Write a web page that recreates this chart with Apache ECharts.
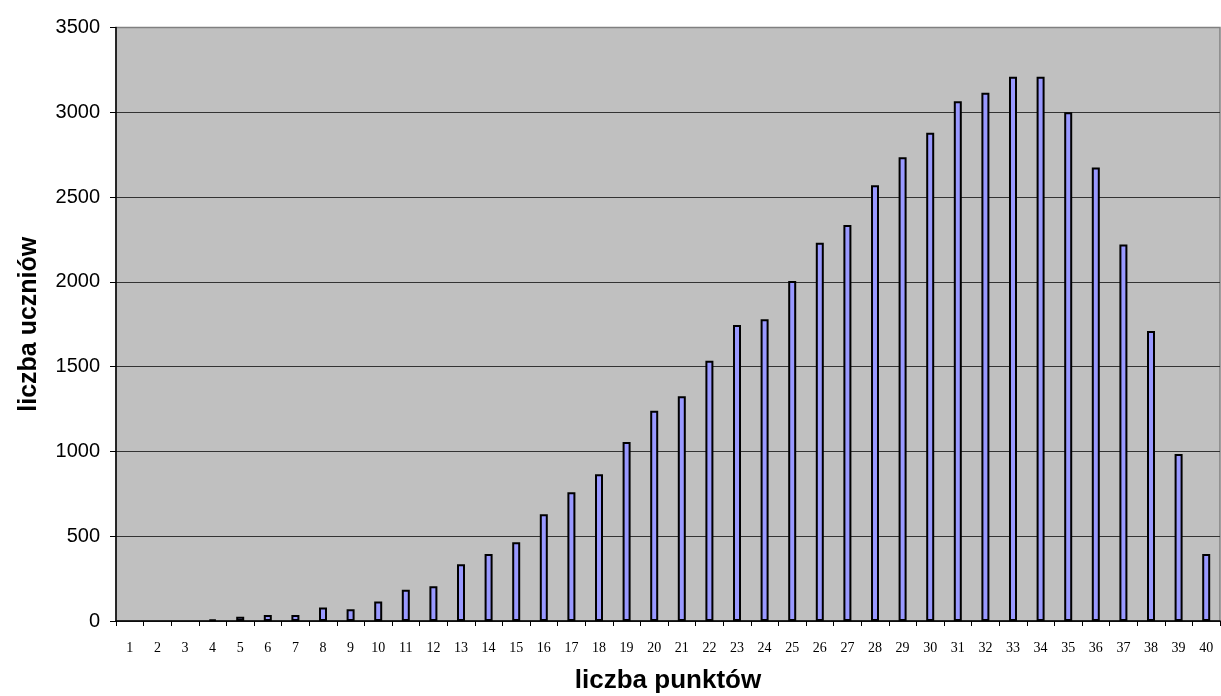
<!DOCTYPE html>
<html>
<head>
<meta charset="utf-8">
<script src="https://cdn.jsdelivr.net/npm/echarts@6/dist/echarts.min.js"></script>
<style>
html,body{margin:0;padding:0;background:#fff;}
#chart{width:1221px;height:696px;}
</style>
</head>
<body>
<div id="chart"></div>
<script>
const categories = ['1','2','3','4','5','6','7','8','9','10','11','12','13','14','15','16','17','18','19','20','21','22','23','24','25','26','27','28','29','30','31','32','33','34','35','36','37','38','39','40'];
const values = [0,0,0,8,25,35,35,80,70,115,185,205,335,395,465,630,760,865,1055,1240,1325,1535,1745,1780,2005,2230,2335,2570,2735,2880,3065,3115,3210,3210,3000,2675,2220,1710,985,395];
const yTicks = {min:0, max:3500, interval:500};
const xTitle = 'liczba punktów';
const yTitle = 'liczba uczniów';

const chart = echarts.init(document.getElementById('chart'));
chart.setOption({
  animation:false,
  backgroundColor:'#ffffff',
  grid:{left:116, right:1, top:27.5, bottom:75, outerBoundsMode:'none', containLabel:false, show:true, backgroundColor:'#C0C0C0', borderColor:'#808080', borderWidth:1.5},
  xAxis:{
    type:'category', data:categories, boundaryGap:true,
    name:xTitle, nameLocation:'middle', nameGap:47,
    nameTextStyle:{fontFamily:'Liberation Sans, Arial', fontWeight:'bold', fontSize:26, color:'#000'},
    axisLine:{lineStyle:{color:'#000', width:1.5}},
    axisTick:{show:true, alignWithLabel:false, length:5, lineStyle:{color:'#000'}},
    axisLabel:{fontFamily:'Liberation Serif, Times New Roman', fontSize:14, color:'#000', margin:20, interval:0},
    splitLine:{show:false}
  },
  yAxis:{
    type:'value', min:yTicks.min, max:yTicks.max, interval:yTicks.interval,
    name:yTitle, nameLocation:'middle', nameGap:74, nameRotate:90,
    nameTextStyle:{fontFamily:'Liberation Sans, Arial', fontWeight:'bold', fontSize:25, color:'#000'},
    axisLine:{show:true, lineStyle:{color:'#000', width:1.5}},
    axisTick:{show:true, length:6, lineStyle:{color:'#000'}},
    axisLabel:{fontFamily:'Liberation Sans, Arial', fontSize:20, color:'#000', margin:16, formatter:function(v){return String(v);}},
    splitLine:{show:true, lineStyle:{color:['#333','#333','#333','#333','#333','#333','#333','#808080'], width:1}}
  },
  series:[{
    type:'bar', barWidth:8,
    data:values.map(function(v){ return {value:v, itemStyle:{borderWidth: v>0 ? 2 : 0}}; }),
    itemStyle:{color:'#9999FF', borderColor:'#000', borderWidth:2}
  }]
});
</script>
</body>
</html>
